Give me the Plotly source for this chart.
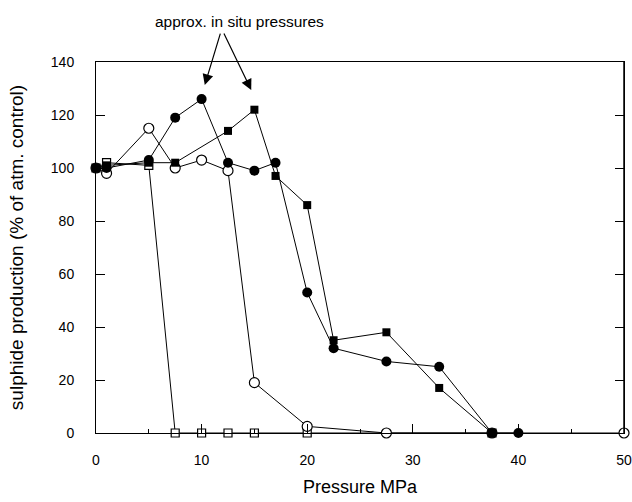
import plotly.graph_objects as go

# Filled circles
fc_x = [0, 1, 5, 7.5, 10, 12.5, 15, 17, 20, 22.5, 27.5, 32.5, 37.5, 40]
fc_y = [100, 100, 103, 119, 126, 102, 99, 102, 53, 32, 27, 25, 0, 0]
# Filled squares
fs_x = [0, 1, 5, 7.5, 12.5, 15, 17, 20, 22.5, 27.5, 32.5, 37.5]
fs_y = [100, 101, 102, 102, 114, 122, 97, 86, 35, 38, 17, 0]
# Open circles
oc_x = [0, 1, 5, 7.5, 10, 12.5, 15, 20, 27.5, 37.5, 50]
oc_y = [100, 98, 115, 100, 103, 99, 19, 2.5, 0, 0, 0]
# Open squares
os_x = [0, 1, 5, 7.5, 10, 12.5, 15, 20, 37.5]
os_y = [100, 102, 101, 0, 0, 0, 0, 0, 0]

x_ticks = [0, 10, 20, 30, 40, 50]
y_ticks = [0, 20, 40, 60, 80, 100, 120, 140]

font = "Liberation Sans, Arial, Helvetica, sans-serif"

W, H = 632, 502
L, R, T, B = 96, 8, 62, 69

fig = go.Figure()
fig.add_trace(go.Scatter(x=os_x, y=os_y, mode="lines+markers", cliponaxis=False,
                         line=dict(color="black", width=1),
                         marker=dict(symbol="square", size=8, color="white",
                                     line=dict(color="black", width=1.2))))
fig.add_trace(go.Scatter(x=oc_x, y=oc_y, mode="lines+markers", cliponaxis=False,
                         line=dict(color="black", width=1),
                         marker=dict(symbol="circle", size=10, color="white",
                                     line=dict(color="black", width=1.2))))
fig.add_trace(go.Scatter(x=fs_x, y=fs_y, mode="lines+markers", cliponaxis=False,
                         line=dict(color="black", width=1),
                         marker=dict(symbol="square", size=8, color="black")))
fig.add_trace(go.Scatter(x=fc_x, y=fc_y, mode="lines+markers", cliponaxis=False,
                         line=dict(color="black", width=1),
                         marker=dict(symbol="circle", size=10, color="black")))

fig.add_annotation(x=10.3, y=131.3, xref="x", yref="y", ax=16, ay=-53,
                   text="", showarrow=True, arrowhead=2, arrowsize=1.8,
                   arrowwidth=1.2, arrowcolor="black")
fig.add_annotation(x=14.7, y=129.4, xref="x", yref="y", ax=-28, ay=-58,
                   text="", showarrow=True, arrowhead=2, arrowsize=1.8,
                   arrowwidth=1.2, arrowcolor="black")
fig.add_annotation(x=(239 - 96) / (624 - 96), y=(433 - 22) / (433 - 62),
                   xref="paper", yref="paper", text="approx. in situ pressures",
                   xanchor="center", yanchor="middle",
                   showarrow=False, font=dict(size=15.5, color="black", family=font))

# right edge of the frame, tied to the x axis end
fig.add_shape(type="line", xref="x", yref="paper", x0=x_ticks[-1], y0=0,
              x1=x_ticks[-1], y1=1,
              line=dict(color="black", width=1.5), layer="above")

fig.update_layout(
    width=W, height=H,
    margin=dict(l=L, r=R, t=T, b=B, autoexpand=False),
    plot_bgcolor="white", paper_bgcolor="white",
    showlegend=False,
    font=dict(family=font, color="black", size=14),
)
fig.update_xaxes(range=[0, 50], tickvals=x_ticks, ticks="inside", ticklen=9,
                 tickcolor="black", showline=True, linecolor="black", linewidth=1,
                 mirror=True, showgrid=False, zeroline=False,
                 ticklabelstandoff=14, ticklabeloverflow="allow",
                 minor=dict(dtick=5, ticks="inside", ticklen=4, tickcolor="black"),
                 title=dict(text="Pressure MPa", font=dict(size=18), standoff=13))
fig.update_yaxes(range=[0, 140], tickvals=y_ticks, ticks="inside", ticklen=9,
                 tickcolor="black", showline=True, linecolor="black", linewidth=1,
                 mirror="allticks", showgrid=False, zeroline=False,
                 ticklabelstandoff=18, ticklabeloverflow="allow",
                 title=dict(text="sulphide production (% of atm. control)",
                            font=dict(size=19), standoff=22))

fig.write_html("out.html", config={"displayModeBar": False},
               post_script="document.body.style.margin='0';document.body.style.overflow='hidden';")
